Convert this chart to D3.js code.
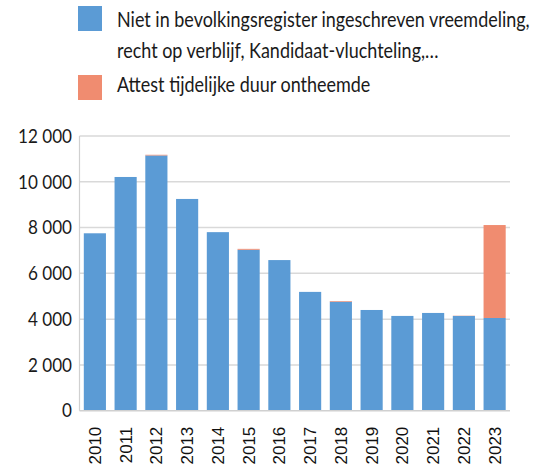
<!DOCTYPE html>
<html><head><meta charset="utf-8">
<script src="https://cdn.jsdelivr.net/npm/d3@7"></script>
<style>body{margin:0;background:#fff}svg{display:block}</style>
</head><body><svg id="c" width="543" height="470"></svg>
<script>
const years = ["2010","2011","2012","2013","2014","2015","2016","2017","2018","2019","2020","2021","2022","2023"];
const seriesNames = ["Niet in bevolkingsregister ingeschreven vreemdeling, recht op verblijf, Kandidaat-vluchteling,…", "Attest tijdelijke duur ontheemde"];
const blueValues = [7750,10210,11150,9250,7800,7030,6580,5190,4760,4400,4140,4270,4140,4050];
const orangeValues = [0,0,30,0,0,40,0,0,30,0,0,0,10,4060];
const yTicks = [0,2000,4000,6000,8000,10000,12000];
const colors = ["#5B9BD5","#F08C70"];

const svg = d3.select("#c");
const m = {left:79.5, right:510, top:136, bottom:410.7};
const x = d3.scaleBand().domain(years).range([m.left,m.right]).paddingInner(0.28).paddingOuter(0.14);
const y = d3.scaleLinear().domain([0,12000]).range([m.bottom,m.top]);
const fmt = v => d3.format(",")(v).replace(/,/g," ");

// gridlines
svg.append("g").selectAll("line").data(yTicks.filter(d=>d>0)).join("line")
  .attr("x1",m.left).attr("x2",m.right).attr("y1",d=>y(d)).attr("y2",d=>y(d))
  .attr("stroke","#d9d9d9").attr("stroke-width",1.5);

const data = years.map((yr,i)=>({year:yr, blue:blueValues[i], orange:orangeValues[i]}));
const stack = d3.stack().keys(["blue","orange"])(data);
svg.append("g").selectAll("g").data(stack).join("g").attr("fill",(d,i)=>colors[i])
  .selectAll("rect").data(d=>d).join("rect")
  .attr("x",d=>x(d.data.year)).attr("width",x.bandwidth())
  .attr("y",d=>y(d[1])).attr("height",d=>y(d[0])-y(d[1]));

// axes lines
svg.append("line").attr("x1",m.left).attr("x2",m.left).attr("y1",m.top).attr("y2",m.bottom).attr("stroke","#d0d0d0").attr("stroke-width",1.2);
svg.append("line").attr("x1",m.left).attr("x2",m.right).attr("y1",m.bottom).attr("y2",m.bottom).attr("stroke","#d0d0d0").attr("stroke-width",1.5);

// legend
const lg = svg.append("g").attr("font-family","Lato, sans-serif").attr("font-size",20.5).attr("fill","#1a1a1a");
lg.append("rect").attr("x",78).attr("y",6).attr("width",24).attr("height",25).attr("fill",colors[0]);
lg.append("rect").attr("x",78).attr("y",75).attr("width",24).attr("height",25).attr("fill",colors[1]);
const parts = seriesNames[0].split(", recht");
const t1 = lg.append("text").attr("x",117).attr("y",27).text(parts[0]+",");
const k = 413 / t1.node().getComputedTextLength();
const lines = [[parts[0]+",",27],["recht"+parts[1],58],[seriesNames[1],92]];
t1.remove();
lines.forEach(([s,yy])=>{
  lg.append("text").attr("transform",`translate(117,${yy}) scale(${k},1)`).text(s);
});

// y labels
const yAxis = d3.axisLeft(y).tickValues(yTicks).tickFormat(fmt).tickSize(0).tickPadding(0);
const ya = svg.append("g").attr("transform",`translate(72,0)`).call(yAxis);
ya.select(".domain").remove();
ya.selectAll("text").attr("font-family","Lato, sans-serif").attr("font-size",19.5).attr("fill","#1a1a1a")
  .attr("x",0).attr("transform",`scale(${k},1)`);

// x labels
const xAxis = d3.axisBottom(x).tickSize(0).tickPadding(0);
const xa = svg.append("g").attr("transform",`translate(0,${m.bottom})`).call(xAxis);
xa.select(".domain").remove();
xa.selectAll("text").attr("font-family","Liberation Sans, Arial, sans-serif").attr("font-size",17).attr("fill","#111")
  .attr("text-anchor","end").attr("dy","0.35em").attr("transform","translate(0,16) rotate(-90)").attr("x",0).attr("y",0);
</script></body></html>
